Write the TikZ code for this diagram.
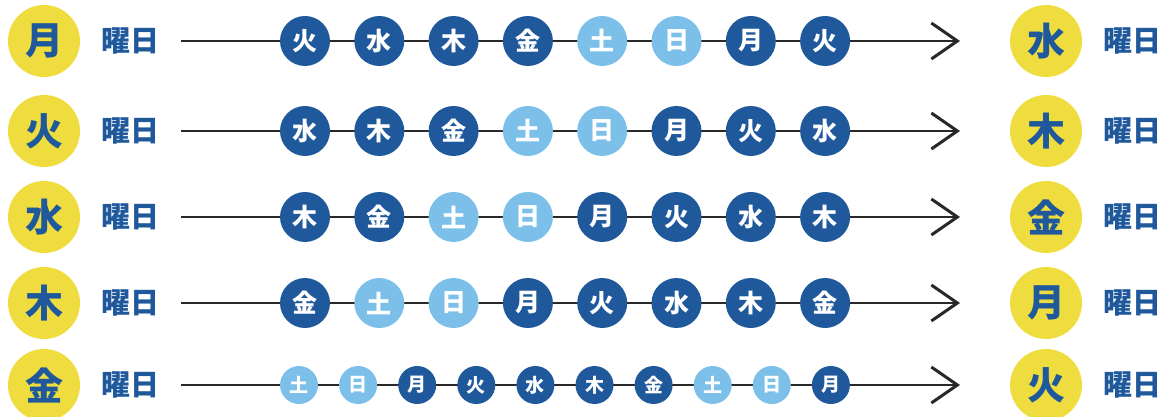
\documentclass[tikz,border=0pt]{standalone}
\usepackage{fontspec}
\setmainfont{Noto Sans CJK JP}
\usepackage{tikz}
\usetikzlibrary{arrows.meta,positioning}
\usepackage{xcolor}
\definecolor{dayblue}{RGB}{31,89,155}
\definecolor{daylight}{RGB}{124,192,234}
\definecolor{dayyellow}{RGB}{239,221,64}
\definecolor{linegray}{RGB}{40,40,40}
\tikzstyle{yellowday} = [circle, fill=dayyellow, minimum size=72pt, inner sep=0pt, text=dayblue, font=\bfseries\fontsize{38pt}{38pt}\selectfont]
\tikzstyle{youbi} = [inner sep=0pt, text=dayblue, font=\bfseries\fontsize{29pt}{29pt}\selectfont]
\tikzstyle{weekday} = [circle, fill=dayblue, minimum size=50pt, inner sep=0pt, text=white, font=\bfseries\fontsize{25pt}{25pt}\selectfont, node distance=74.3pt]
\tikzstyle{weekend} = [weekday, fill=daylight]
\tikzstyle{smallday} = [weekday, minimum size=38pt, font=\bfseries\fontsize{19pt}{19pt}\selectfont, node distance=59.1pt]
\tikzstyle{smallend} = [smallday, fill=daylight]
\tikzstyle{timeline} = [line width=2.5pt, color=linegray, -{Straight Barb[length=26pt,width=36pt,line width=3pt]}]

\begin{document}
\begin{tikzpicture}[x=1pt, y=-1pt]
\useasboundingbox (0,0) rectangle (1168,417);

% Lines first, circles sit on top
\coordinate (s1) at (181,41);  \coordinate (e1) at (960,41);
\coordinate (s2) at (181,131); \coordinate (e2) at (960,131);
\coordinate (s3) at (181,217); \coordinate (e3) at (960,217);
\coordinate (s4) at (181,303); \coordinate (e4) at (960,303);
\coordinate (s5) at (181,385); \coordinate (e5) at (960,385);
\draw[timeline] (s1) -- (e1);
\draw[timeline] (s2) -- (e2);
\draw[timeline] (s3) -- (e3);
\draw[timeline] (s4) -- (e4);
\draw[timeline] (s5) -- (e5);

% Row 1
\node (from1) [yellowday] at (44,41) {月};
\node (lab1) [youbi] at (130,41) {曜日};
\node (r1c1) [weekday] at (305,41) {火};
\node (r1c2) [weekday, right of=r1c1] {水};
\node (r1c3) [weekday, right of=r1c2] {木};
\node (r1c4) [weekday, right of=r1c3] {金};
\node (r1c5) [weekend, right of=r1c4] {土};
\node (r1c6) [weekend, right of=r1c5] {日};
\node (r1c7) [weekday, right of=r1c6] {月};
\node (r1c8) [weekday, right of=r1c7] {火};
\node (to1) [yellowday] at (1046,41) {水};
\node (end1) [youbi] at (1132,41) {曜日};

% Row 2
\node (from2) [yellowday] at (44,131) {火};
\node (lab2) [youbi] at (130,131) {曜日};
\node (r2c1) [weekday] at (305,131) {水};
\node (r2c2) [weekday, right of=r2c1] {木};
\node (r2c3) [weekday, right of=r2c2] {金};
\node (r2c4) [weekend, right of=r2c3] {土};
\node (r2c5) [weekend, right of=r2c4] {日};
\node (r2c6) [weekday, right of=r2c5] {月};
\node (r2c7) [weekday, right of=r2c6] {火};
\node (r2c8) [weekday, right of=r2c7] {水};
\node (to2) [yellowday] at (1046,131) {木};
\node (end2) [youbi] at (1132,131) {曜日};

% Row 3
\node (from3) [yellowday] at (44,217) {水};
\node (lab3) [youbi] at (130,217) {曜日};
\node (r3c1) [weekday] at (305,217) {木};
\node (r3c2) [weekday, right of=r3c1] {金};
\node (r3c3) [weekend, right of=r3c2] {土};
\node (r3c4) [weekend, right of=r3c3] {日};
\node (r3c5) [weekday, right of=r3c4] {月};
\node (r3c6) [weekday, right of=r3c5] {火};
\node (r3c7) [weekday, right of=r3c6] {水};
\node (r3c8) [weekday, right of=r3c7] {木};
\node (to3) [yellowday] at (1046,217) {金};
\node (end3) [youbi] at (1132,217) {曜日};

% Row 4
\node (from4) [yellowday] at (44,303) {木};
\node (lab4) [youbi] at (130,303) {曜日};
\node (r4c1) [weekday] at (305,303) {金};
\node (r4c2) [weekend, right of=r4c1] {土};
\node (r4c3) [weekend, right of=r4c2] {日};
\node (r4c4) [weekday, right of=r4c3] {月};
\node (r4c5) [weekday, right of=r4c4] {火};
\node (r4c6) [weekday, right of=r4c5] {水};
\node (r4c7) [weekday, right of=r4c6] {木};
\node (r4c8) [weekday, right of=r4c7] {金};
\node (to4) [yellowday] at (1046,303) {月};
\node (end4) [youbi] at (1132,303) {曜日};

% Row 5 (ten smaller days)
\node (from5) [yellowday] at (44,385) {金};
\node (lab5) [youbi] at (130,385) {曜日};
\node (r5c1) [smallend] at (299,385) {土};
\node (r5c2) [smallend, right of=r5c1] {日};
\node (r5c3) [smallday, right of=r5c2] {月};
\node (r5c4) [smallday, right of=r5c3] {火};
\node (r5c5) [smallday, right of=r5c4] {水};
\node (r5c6) [smallday, right of=r5c5] {木};
\node (r5c7) [smallday, right of=r5c6] {金};
\node (r5c8) [smallend, right of=r5c7] {土};
\node (r5c9) [smallend, right of=r5c8] {日};
\node (r5c10) [smallday, right of=r5c9] {月};
\node (to5) [yellowday] at (1046,385) {火};
\node (end5) [youbi] at (1132,385) {曜日};
\end{tikzpicture}
\end{document}
